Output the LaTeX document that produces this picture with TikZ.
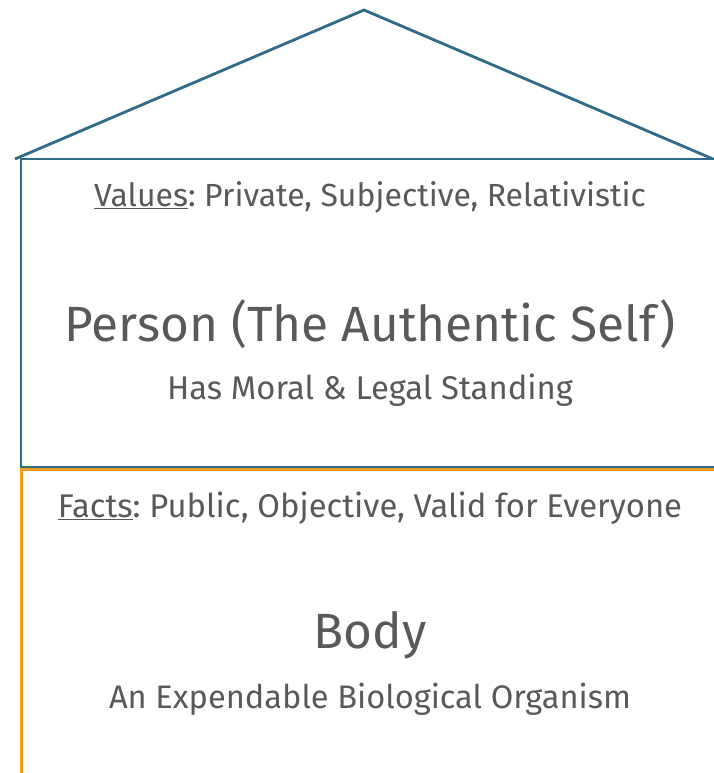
\documentclass[tikz,border=0pt]{standalone}
\usepackage{fontspec}
\setmainfont{Fira Sans}
\usepackage{xcolor}
\usepackage{tikz}
\definecolor{houseblue}{HTML}{2F6A8A}
\definecolor{baseorange}{HTML}{F39C1A}
\definecolor{textgray}{HTML}{595959}
\frenchspacing

\begin{document}
\begin{tikzpicture}[x=1pt,y=-1pt]
	\useasboundingbox (0,0) rectangle (713,773);
	\draw[houseblue, line width=2.8pt] (15,159) -- (364,10) -- (713,159);
	\draw[houseblue, line width=2.8pt] (725,159) -- (21,159) -- (21,467) -- (725,467);
	\draw[baseorange, line width=2.8pt] (725,469.5) -- (21.5,469.5) -- (21.5,780);
	\node[textgray, font=\fontsize{32}{38}\selectfont] (values) at (370,197) {\underline{Values}: Private, Subjective, Relativistic};
	\node[textgray, font=\fontsize{49.5}{56}\selectfont] (person) at (370,324) {Person (The Authentic Self)};
	\node[textgray, font=\fontsize{32.8}{38}\selectfont] (standing) at (370,390) {Has Moral \& Legal Standing};
	\node[textgray, font=\fontsize{32.8}{38}\selectfont] (facts) at (370,508) {\underline{Facts}: Public, Objective, Valid for Everyone};
	\node[textgray, font=\fontsize{49.5}{56}\selectfont] (body) at (370,635) {Body};
	\node[textgray, font=\fontsize{32.6}{38}\selectfont] (organism) at (370,699) {An Expendable Biological Organism};
\end{tikzpicture}
\end{document}
